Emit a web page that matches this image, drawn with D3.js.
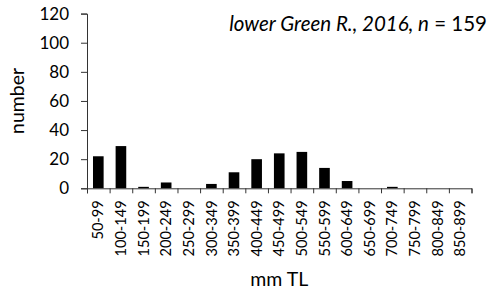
<!DOCTYPE html>
<html>
<head>
<meta charset="utf-8">
<script src="https://cdn.jsdelivr.net/npm/d3@7"></script>
<style>
  body { margin: 0; background: #fff; }
  text { font-family: Lato, "Open Sans", sans-serif; fill: #000; }
</style>
</head>
<body>
<div id="chart"></div>
<script>
// length classes (mm TL) and counts
const classes = ["50-99", "100-149", "150-199", "200-249", "250-299", "300-349", "350-399",
  "400-449", "450-499", "500-549", "550-599", "600-649", "650-699", "700-749",
  "750-799", "800-849", "850-899"];
const counts = [22, 29, 1, 4, 0, 3, 11, 20, 24, 25, 14, 5, 0, 1, 0, 0, 0];
const yTicks = [0, 20, 40, 60, 80, 100, 120];

const W = 494, H = 295;
const margin = { top: 13.6, right: 22.5, bottom: 106.7, left: 87 },
  width = W - margin.left - margin.right,
  height = H - margin.top - margin.bottom;

const svg = d3.select("#chart").append("svg")
  .attr("width", W)
  .attr("height", H);

const g = svg.append("g")
  .attr("transform", "translate(" + margin.left + "," + margin.top + ")");

// scales
const x = d3.scaleBand()
  .domain(classes)
  .range([0, width])
  .paddingInner(0.53)
  .paddingOuter(0.265);

const y = d3.scaleLinear()
  .domain([0, 120])
  .range([height, 0]);

// bars
g.selectAll("rect.bar")
  .data(counts)
  .join("rect")
  .attr("class", "bar")
  .attr("x", (d, i) => x(classes[i]))
  .attr("width", x.bandwidth())
  .attr("y", d => y(d))
  .attr("height", d => height - y(d))
  .attr("fill", "#000");

// y axis
const axeY = g.append("g")
  .call(d3.axisLeft(y).tickValues(yTicks).tickSize(6).tickPadding(12));
axeY.select(".domain").attr("stroke", "#333");
axeY.selectAll(".tick line").attr("stroke", "#333");
axeY.selectAll(".tick text").style("font-size", "17px");

// x axis : ticks at class boundaries
const xb = d3.scaleLinear().domain([0, classes.length]).range([0, width]);
const axeXticks = g.append("g")
  .attr("transform", "translate(0," + height + ")")
  .call(d3.axisBottom(xb).tickValues(d3.range(classes.length + 1)).tickSize(5).tickFormat(""));
axeXticks.select(".domain").attr("stroke", "#333");
axeXticks.selectAll(".tick line").attr("stroke", "#333");

// x labels, rotated
const axeX = g.append("g")
  .attr("transform", "translate(0," + height + ")")
  .call(d3.axisBottom(x).tickSize(0).tickPadding(0));
axeX.select(".domain").remove();
axeX.selectAll(".tick text")
  .style("font-size", "14.6px")
  .attr("text-anchor", "end")
  .attr("transform", "rotate(-90)")
  .attr("x", -12)
  .attr("y", 0)
  .attr("dy", "0.35em");

// axis titles
svg.append("text")
  .attr("x", margin.left + width / 2)
  .attr("y", 286)
  .attr("text-anchor", "middle")
  .style("font-size", "19.5px")
  .text("mm TL");

svg.append("text")
  .attr("transform", "translate(24," + (margin.top + height / 2) + ") rotate(-90)")
  .attr("text-anchor", "middle")
  .style("font-size", "19.5px")
  .text("number");

// title
const titre = svg.append("text")
  .attr("x", 487)
  .attr("y", 31)
  .attr("text-anchor", "end")
  .style("font-size", "20.5px");
titre.append("tspan").style("font-style", "italic").text("lower Green R., 2016, n");
titre.append("tspan").text(" = 159");
</script>
</body>
</html>
